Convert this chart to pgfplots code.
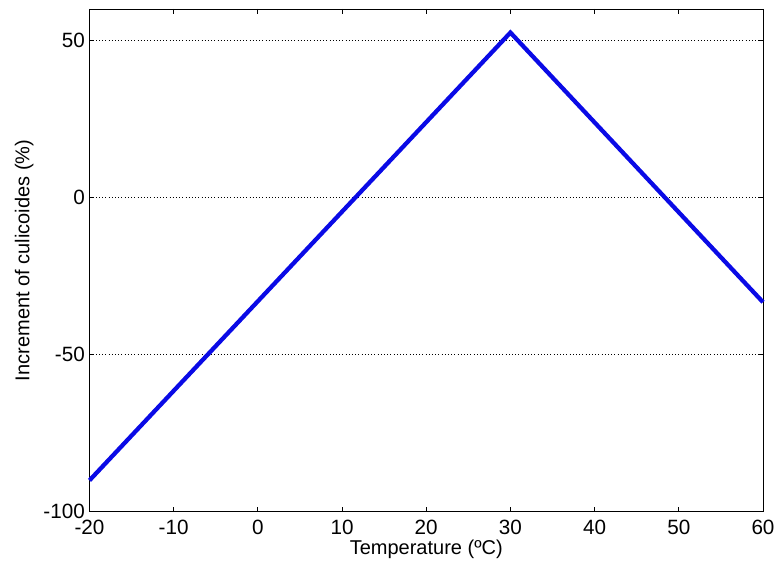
\documentclass[border=0pt]{standalone}
\usepackage{fontspec}
\setmainfont{Liberation Sans}
\usepackage{pgfplots}
\pgfplotsset{compat=1.18}

\begin{document}
\begin{tikzpicture}[font=\fontsize{15}{17}\selectfont]
\begin{axis}[
    name=ax,
    scale only axis,
    width=505pt, height=377pt,
    xmin=-20, xmax=60, ymin=-100, ymax=60,
    xtick={-20,-10,...,60},
    ytick={-100,-50,0,50},
    tick align=inside,
    major tick length=3.75pt,
    ymajorgrids,
    major grid style={black, dotted, line width=0.6pt},
    axis line style={line width=0.6pt},
    tick style={black, line width=0.6pt},
    xlabel={Temperature (ºC)},
    ylabel={Increment of culicoides (\%)},
    every axis x label/.style={at={([yshift=-28.5pt]axis description cs:0.5,0)}, anchor=center},
    every axis y label/.style={at={([xshift=-49pt]axis description cs:0,0.5)}, rotate=90, anchor=center},
    xticklabel style={yshift=-3pt},
    yticklabel style={xshift=0pt},
    tick label style={font=\fontsize{15.5}{17}\selectfont},
    label style={font=\fontsize{15}{17}\selectfont},
    /pgf/number format/assume math mode=true,
    clip=false,
]
\addplot[line width=3.2pt, color={rgb,255:red,10;green,10;blue,230}] coordinates {
    (-20,-90) (30,52.5) (60,-33.3)
};
\end{axis}
\pgfresetboundingbox
\path ([shift={(-67.1pt,-41.25pt)}]ax.south west) rectangle ([shift={(10.5pt,6.75pt)}]ax.north east);
\end{tikzpicture}
\end{document}
